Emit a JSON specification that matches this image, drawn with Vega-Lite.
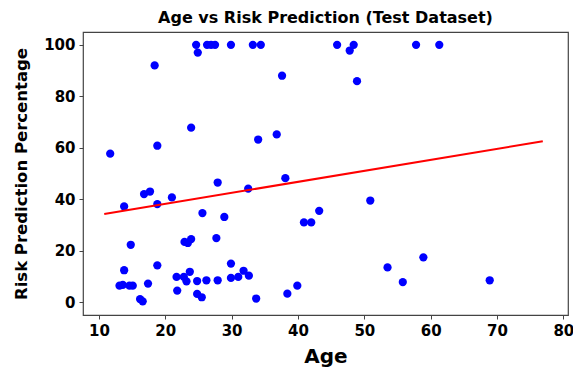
{
  "$schema": "https://vega.github.io/schema/vega-lite/v6.json",
  "width": 485,
  "height": 283,
  "autosize": "none",
  "padding": {"left": 83, "top": 32, "right": 5, "bottom": 52},
  "title": {"text": "Age vs Risk Prediction (Test Dataset)", "font": "DejaVu Sans", "fontSize": 16, "fontWeight": "bold", "color": "#000", "offset": 6},
  "config": {
    "view": {"stroke": "#444", "strokeWidth": 1.2},
    "axis": {"grid": false, "domain": false, "tickColor": "#444", "tickSize": 4, "labelPadding": 4, "labelFont": "DejaVu Sans", "labelFontWeight": "bold", "labelFontSize": 15, "labelColor": "#000", "titleFont": "DejaVu Sans", "titleFontWeight": "bold", "titleColor": "#000"}
  },
  "layer": [
    {
      "data": {"values": [
        {"age": 24.65, "risk": 100}, {"age": 24.9, "risk": 97}, {"age": 26.3, "risk": 100}, {"age": 26.9, "risk": 100}, {"age": 27.5, "risk": 100},
        {"age": 29.9, "risk": 100}, {"age": 33.2, "risk": 100}, {"age": 34.4, "risk": 100}, {"age": 45.9, "risk": 100}, {"age": 48.4, "risk": 100},
        {"age": 47.8, "risk": 97.8}, {"age": 57.8, "risk": 100}, {"age": 61.3, "risk": 100}, {"age": 18.4, "risk": 92}, {"age": 37.6, "risk": 88},
        {"age": 48.9, "risk": 85.9}, {"age": 23.9, "risk": 67.8}, {"age": 18.8, "risk": 60.8}, {"age": 11.7, "risk": 57.7}, {"age": 34.0, "risk": 63.2},
        {"age": 36.8, "risk": 65.2}, {"age": 13.8, "risk": 37.2}, {"age": 16.8, "risk": 42.0}, {"age": 17.7, "risk": 43.0}, {"age": 18.8, "risk": 38.1},
        {"age": 21.0, "risk": 40.7}, {"age": 27.9, "risk": 46.5}, {"age": 32.5, "risk": 44.1}, {"age": 25.6, "risk": 34.6}, {"age": 28.9, "risk": 33.1},
        {"age": 38.1, "risk": 48.2}, {"age": 50.9, "risk": 39.5}, {"age": 40.9, "risk": 31.0}, {"age": 42.0, "risk": 31.0}, {"age": 43.2, "risk": 35.5},
        {"age": 14.8, "risk": 22.3}, {"age": 22.9, "risk": 23.4}, {"age": 23.4, "risk": 23.0}, {"age": 23.9, "risk": 24.5}, {"age": 27.7, "risk": 24.9},
        {"age": 13.8, "risk": 12.4}, {"age": 18.8, "risk": 14.3}, {"age": 13.1, "risk": 6.4}, {"age": 13.6, "risk": 6.7}, {"age": 14.6, "risk": 6.4},
        {"age": 15.1, "risk": 6.4}, {"age": 17.4, "risk": 7.2}, {"age": 16.2, "risk": 1.2}, {"age": 16.6, "risk": 0.3}, {"age": 21.7, "risk": 9.8},
        {"age": 22.8, "risk": 9.8}, {"age": 23.2, "risk": 8.1}, {"age": 23.7, "risk": 11.8}, {"age": 24.8, "risk": 8.2}, {"age": 26.2, "risk": 8.5},
        {"age": 27.9, "risk": 8.5}, {"age": 29.9, "risk": 15.0}, {"age": 29.9, "risk": 9.4}, {"age": 31.0, "risk": 9.8}, {"age": 31.8, "risk": 12.2},
        {"age": 32.6, "risk": 10.3}, {"age": 21.8, "risk": 4.5}, {"age": 24.8, "risk": 3.2}, {"age": 25.5, "risk": 1.9}, {"age": 33.7, "risk": 1.4},
        {"age": 38.4, "risk": 3.3}, {"age": 39.9, "risk": 6.4}, {"age": 53.5, "risk": 13.5}, {"age": 55.8, "risk": 7.8}, {"age": 58.9, "risk": 17.4},
        {"age": 68.9, "risk": 8.5}
      ]},
      "mark": {"type": "point", "filled": true, "opacity": 1, "size": 68, "color": "#0000ff"},
      "encoding": {
        "x": {"field": "age", "type": "quantitative", "scale": {"domain": [7.6, 80.7], "nice": false, "zero": false}, "axis": {"values": [10, 20, 30, 40, 50, 60, 70, 80], "title": "Age", "titleFontSize": 20, "titlePadding": 8}},
        "y": {"field": "risk", "type": "quantitative", "scale": {"domain": [-5, 105], "nice": false, "zero": false}, "axis": {"values": [0, 20, 40, 60, 80, 100], "title": "Risk Prediction Percentage", "titleFontSize": 16.5, "titlePadding": 14}}
      }
    },
    {
      "data": {"values": [{"age": 10.8, "risk": 34.3}, {"age": 76.9, "risk": 62.5}]},
      "mark": {"type": "line", "color": "#ff0000", "strokeWidth": 2},
      "encoding": {
        "x": {"field": "age", "type": "quantitative"},
        "y": {"field": "risk", "type": "quantitative"}
      }
    }
  ]
}
